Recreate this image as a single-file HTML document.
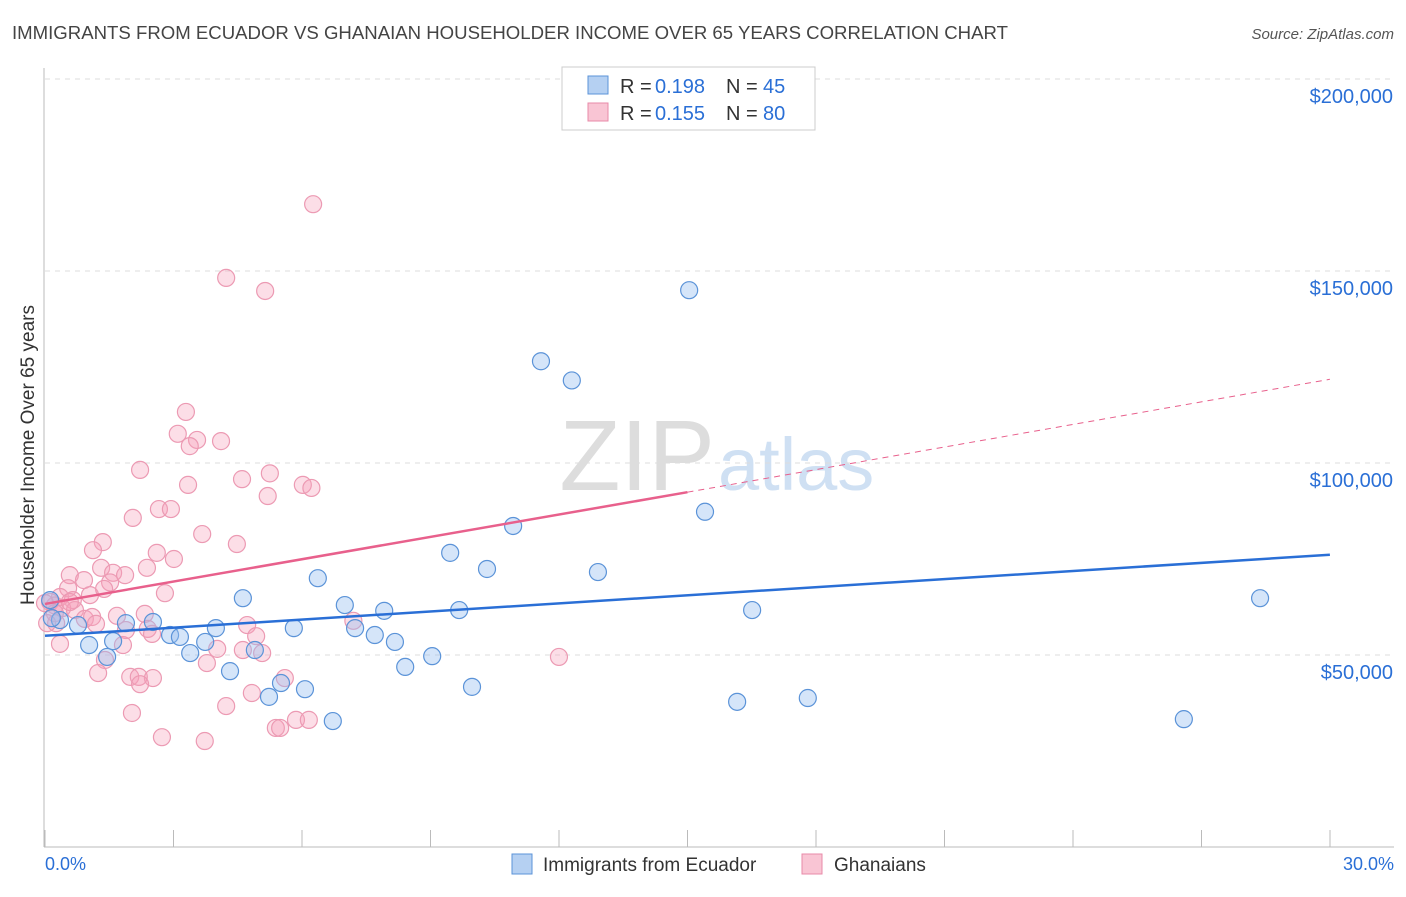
<!DOCTYPE html>
<html><head><meta charset="utf-8"><style>
body{margin:0;background:#fff;font-family:"Liberation Sans",sans-serif;}
svg text{font-family:"Liberation Sans",sans-serif;}
</style></head><body>
<svg id="c" width="1406" height="892">
<text x="12" y="39" font-size="18.6" fill="#444">IMMIGRANTS FROM ECUADOR VS GHANAIAN HOUSEHOLDER INCOME OVER 65 YEARS CORRELATION CHART</text>
<text x="1394" y="39" font-size="15" fill="#555" font-style="italic" text-anchor="end">Source: ZipAtlas.com</text>
<text x="715" y="490" font-size="100" fill="#ddd" text-anchor="end" font-family="Liberation Serif">ZIP</text>
<text x="718" y="490" font-size="74" fill="#cfe0f3">atlas</text>
<g id="grid"></g><g id="axes"></g><g id="pts"></g><g id="lines"></g>
<text x="34" y="455" font-size="19" fill="#333" text-anchor="middle" transform="rotate(-90 34 455)">Householder Income Over 65 years</text>
<rect x="562" y="67" width="253" height="63" fill="#fff" stroke="#ccc"/>
<rect x="588" y="76" width="20" height="18" fill="#b5d0f2" stroke="#5b93d8"/>
<rect x="588" y="103" width="20" height="18" fill="#f9c5d4" stroke="#e88aa8"/>
<g font-size="20" fill="#333">
<text x="620" y="93">R =</text><text x="655" y="93" fill="#2a6fd6">0.198</text><text x="726" y="93">N =</text><text x="763" y="93" fill="#2a6fd6">45</text></g>
<g font-size="20" fill="#333">
<text x="620" y="120">R =</text><text x="655" y="120" fill="#2a6fd6">0.155</text><text x="726" y="120">N =</text><text x="763" y="120" fill="#2a6fd6">80</text></g>
<rect x="512" y="854" width="20" height="20" fill="#b5d0f2" stroke="#5b93d8"/>
<text x="543" y="871" font-size="19" fill="#333">Immigrants from Ecuador</text>
<rect x="802" y="854" width="20" height="20" fill="#f9c5d4" stroke="#e88aa8"/>
<text x="834" y="871" font-size="19" fill="#333">Ghanaians</text>
<text x="45" y="870" font-size="18" fill="#2a6fd6">0.0%</text>
<text x="1394" y="870" font-size="18" fill="#2a6fd6" text-anchor="end">30.0%</text>
</svg>
<script>
const yTicks=[50000,100000,150000,200000];
const yTickLabels=["$50,000","$100,000","$150,000","$200,000"];
const blueX=[15.04,11.58,12.3,15.41,10.93,9.46,10.32,12.91,6.37,4.62,28.37,7.0,9.67,7.92,16.51,3.99,5.81,7.24,2.52,1.89,2.92,3.15,3.74,7.7,8.17,1.59,1.03,0.77,0.35,0.12,0.16,3.39,4.9,1.45,9.04,8.41,4.32,5.51,6.07,5.23,9.97,16.16,17.81,6.72,26.59];
const blueY=[145000,126500,121500,87300,83600,76600,72400,71600,70000,64800,64800,63000,61700,61500,61700,57000,57000,57000,58600,58300,55200,54700,53400,55200,53400,53600,52600,57800,59100,64300,59600,50500,51300,49500,49700,46900,45800,42700,41100,39100,41700,37800,38800,32800,33300];
const pinkX=[6.26,4.23,5.14,3.29,3.1,3.55,3.38,4.11,2.22,4.6,5.25,3.34,6.02,6.22,5.2,2.66,2.94,2.05,3.67,4.48,1.35,1.12,2.61,3.01,2.38,1.31,0.58,1.59,1.87,0.91,1.52,0.54,1.05,1.38,2.8,0.35,0.65,0.12,0.23,0.4,0.0,0.7,0.23,0.93,1.1,1.19,1.68,2.33,0.26,2.4,1.89,4.72,2.5,4.93,4.02,0.35,1.82,5.07,4.62,3.78,1.4,1.24,1.99,2.19,2.52,2.22,5.6,12.0,4.83,4.23,2.03,5.86,6.16,5.39,5.49,2.73,3.73,7.2,0.05,0.58];
const pinkY=[167400,148200,144800,113300,107600,106000,104400,105700,98200,95800,97300,94300,94300,93500,91400,88000,88000,85700,81500,78900,79400,77300,76600,75000,72700,72700,70800,71400,70800,69500,68900,67400,65600,67200,66100,65100,64300,63800,62900,62200,63500,61700,60900,59400,59900,58100,60200,60700,58300,56800,56500,57800,55500,54900,51600,52900,52600,50500,51300,47900,48700,45300,44300,44300,44000,42400,44000,49500,40100,36700,34900,33100,33100,31000,31000,28600,27600,58900,58300,63800];
const X=p=>45+p*42.83, Y=v=>847-v/50000*192;
const NS="http://www.w3.org/2000/svg";
function mk(t,a,parent){const e=document.createElementNS(NS,t);for(const k in a)e.setAttribute(k,a[k]);document.getElementById(parent).appendChild(e);return e;}
yTicks.forEach((v,i)=>{
 const g=mk('line',{x1:45,x2:1394,y1:Y(v),y2:Y(v),stroke:'#ddd','stroke-dasharray':'5,5'},'grid');
 
 
 const t=mk('text',{x:1393,y:Y(v)+24,'font-size':20,fill:'#2a6fd6','text-anchor':'end'},'axes');
 t.textContent=yTickLabels[i];
 
 
});
const ax=mk('line',{x1:44,x2:44,y1:68,y2:847,stroke:'#bbb'},'axes');


const bx=mk('line',{x1:44,x2:1394,y1:847,y2:847,stroke:'#bbb'},'axes');


for(let i=0;i<=10;i++){const t=mk('line',{x1:45+i*128.5,x2:45+i*128.5,y1:830,y2:847,stroke:'#bbb'},'axes');
 
 }
pinkX.forEach((x,i)=>{const c=mk('circle',{cx:X(x),cy:Y(pinkY[i]),r:8.5,fill:'rgba(245,160,185,0.35)',stroke:'#ec9ab3','stroke-width':1.2},'pts');
 
 });
blueX.forEach((x,i)=>{const c=mk('circle',{cx:X(x),cy:Y(blueY[i]),r:8.5,fill:'rgba(150,190,240,0.4)',stroke:'#5b93d8','stroke-width':1.2},'pts');
 
 });
const bl=mk('line',{x1:X(0),y1:Y(55000),x2:X(30),y2:Y(76100),stroke:'#2a6fd6','stroke-width':2.5},'lines');


const pl=mk('line',{x1:X(0),y1:Y(63300),x2:X(15),y2:Y(92400),stroke:'#e8608c','stroke-width':2.5},'lines');


const pd=mk('line',{x1:X(15),y1:Y(92400),x2:X(30),y2:Y(121800),stroke:'#e8608c','stroke-width':1,'stroke-dasharray':'6,5'},'lines');


</script>
</body></html>
